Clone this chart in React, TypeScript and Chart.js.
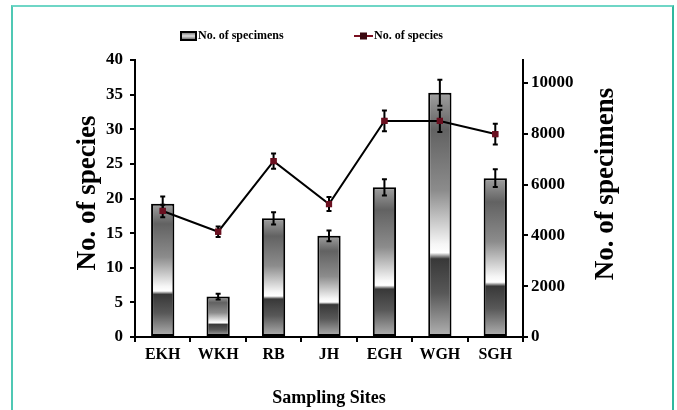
import React, { useEffect, useRef } from "react";
import { Chart, registerables } from "chart.js";

Chart.register(...registerables);

const sites = ["EKH", "WKH", "RB", "JH", "EGH", "WGH", "SGH"];
const specimens = [5240, 1590, 4670, 3980, 5890, 9610, 6250];
const specimenErr = [290, 110, 240, 210, 320, 510, 350];
const species = [18.2, 15.2, 25.4, 19.2, 31.2, 31.2, 29.3];
const speciesErr = [0.9, 0.75, 1.1, 1.0, 1.5, 1.6, 1.5];
const speciesTicks = { min: 0, max: 40, step: 5 };
const specimenAxis = { min: 0, max: 10900 };
const specimenTickValues = [0, 2000, 4000, 6000, 8000, 10000];

const FONT = "'Liberation Serif', 'Times New Roman', serif";

function addBarStops(g: CanvasGradient) {
  g.addColorStop(0, "#a0a0a0");
  g.addColorStop(0.15, "#626262");
  g.addColorStop(0.4, "#8c8c8c");
  g.addColorStop(0.62, "#f6f6f6");
  g.addColorStop(0.655, "#ffffff");
  g.addColorStop(0.68, "#383838");
  g.addColorStop(0.82, "#585858");
  g.addColorStop(1, "#b4b4b4");
}

const overlayPlugin = {
  id: "overlay",
  afterDatasetsDraw(chart: any) {
    const c = chart.ctx as CanvasRenderingContext2D;
    const y = chart.scales.y;
    const y2 = chart.scales.y2;
    const barMeta = chart.getDatasetMeta(0);
    const lineMeta = chart.getDatasetMeta(1);
    c.save();
    c.strokeStyle = "#000";
    c.lineWidth = 2;
    const drawErr = (x: number, lo: number, hi: number) => {
      c.beginPath();
      c.moveTo(x, lo);
      c.lineTo(x, hi);
      c.moveTo(x - 2.5, hi);
      c.lineTo(x + 2.5, hi);
      c.moveTo(x - 2.5, lo);
      c.lineTo(x + 2.5, lo);
      c.stroke();
    };
    specimens.forEach((v, i) => {
      const el = barMeta.data[i];
      drawErr(el.x, y2.getPixelForValue(v - specimenErr[i]), y2.getPixelForValue(v + specimenErr[i]));
    });
    species.forEach((v, i) => {
      const el = lineMeta.data[i];
      drawErr(el.x, y.getPixelForValue(v - speciesErr[i]), y.getPixelForValue(v + speciesErr[i]));
    });
    c.fillStyle = "#6a1020";
    species.forEach((v, i) => {
      const el = lineMeta.data[i];
      c.fillRect(el.x - 3, el.y - 3, 6, 6);
    });
    c.restore();
  },
  afterDraw(chart: any) {
    const c = chart.ctx as CanvasRenderingContext2D;
    const area = chart.chartArea;
    c.save();
    c.fillStyle = "#000";
    c.font = `bold 27px ${FONT}`;
    c.textAlign = "center";
    c.textBaseline = "middle";
    c.save();
    c.translate(88, 193);
    c.rotate(-Math.PI / 2);
    c.fillText("No. of species", 0, 0);
    c.restore();
    c.save();
    c.translate(606, 184);
    c.rotate(-Math.PI / 2);
    c.fillText("No. of specimens", 0, 0);
    c.restore();
    c.font = `bold 18px ${FONT}`;
    c.fillText("Sampling Sites", (area.left + area.right) / 2, 398);
    const ly = 36;
    const g = c.createLinearGradient(0, ly - 4, 0, ly + 4);
    g.addColorStop(0, "#666");
    g.addColorStop(0.5, "#ddd");
    g.addColorStop(1, "#555");
    c.fillStyle = g;
    c.fillRect(181, ly - 4, 15, 8);
    c.strokeStyle = "#000";
    c.lineWidth = 2;
    c.strokeRect(181, ly - 4, 15, 8);
    c.fillStyle = "#000";
    c.font = `bold 12px ${FONT}`;
    c.textAlign = "left";
    c.fillText("No. of specimens", 198, ly);
    c.strokeStyle = "#7a1020";
    c.beginPath();
    c.moveTo(354, ly);
    c.lineTo(373, ly);
    c.stroke();
    c.fillStyle = "#3a0810";
    c.fillRect(360, ly - 3.5, 7, 7);
    c.fillStyle = "#000";
    c.fillText("No. of species", 374, ly);
    c.restore();
  },
};

export default function App() {
  const ref = useRef<HTMLCanvasElement | null>(null);

  useEffect(() => {
    if (!ref.current) return;
    const tickFont = { family: FONT, weight: "bold" as const, size: 16 };
    const yTickFont = { family: FONT, weight: "bold" as const, size: 17 };
    const chart = new Chart(ref.current, {
      type: "bar",
      data: {
        labels: sites,
        datasets: [
          {
            type: "bar",
            label: "No. of specimens",
            data: specimens,
            yAxisID: "y2",
            order: 1,
            borderColor: "#000",
            borderWidth: 2,
            borderSkipped: false,
            barPercentage: 0.42,
            categoryPercentage: 1,
            backgroundColor: (ctx: any) => {
              const ch = ctx.chart;
              const s = ch.scales && ch.scales.y2;
              if (!s || ctx.dataIndex === undefined) return "#999";
              const top = s.getPixelForValue(specimens[ctx.dataIndex]);
              const bottom = s.getPixelForValue(0);
              if (!isFinite(top) || !isFinite(bottom) || top === bottom) return "#999";
              const g = ch.ctx.createLinearGradient(0, top, 0, bottom);
              addBarStops(g);
              return g;
            },
          },
          {
            type: "line",
            label: "No. of species",
            data: species,
            yAxisID: "y",
            order: 0,
            borderColor: "#000",
            borderWidth: 2,
            pointStyle: "rect",
            pointRadius: 3,
            pointBackgroundColor: "#6a1020",
            pointBorderColor: "#6a1020",
            tension: 0,
          },
        ],
      },
      options: {
        responsive: false,
        animation: false,
        layout: { padding: { top: 60, left: 0, right: 0, bottom: 0 } },
        plugins: { legend: { display: false }, tooltip: { enabled: false } },
        scales: {
          x: {
            grid: {
              display: true,
              drawOnChartArea: false,
              drawTicks: true,
              tickLength: 5,
              color: "#000",
              lineWidth: 2,
              offset: true,
            },
            border: { display: true, color: "#000", width: 2 },
            ticks: { font: tickFont, color: "#000", padding: 3, maxRotation: 0 },
            afterFit: (s: any) => {
              s.height = 73;
            },
          },
          y: {
            position: "left",
            min: speciesTicks.min,
            max: speciesTicks.max,
            grid: {
              drawOnChartArea: false,
              drawTicks: true,
              tickLength: 5,
              color: "#000",
              lineWidth: 2,
            },
            border: { display: true, color: "#000", width: 2 },
            ticks: { stepSize: speciesTicks.step, font: yTickFont, color: "#000", padding: 7 },
            afterFit: (s: any) => {
              s.width = 135;
            },
          },
          y2: {
            position: "right",
            min: specimenAxis.min,
            max: specimenAxis.max,
            grid: {
              drawOnChartArea: false,
              drawTicks: true,
              tickLength: 5,
              color: "#000",
              lineWidth: 2,
            },
            border: { display: true, color: "#000", width: 2 },
            ticks: {
              autoSkip: false,
              font: yTickFont,
              color: "#000",
              padding: 3,
              callback: (v: any) => String(Math.round(Number(v))),
            },
            afterBuildTicks: (s: any) => {
              s.ticks = specimenTickValues.map((v) => ({ value: v }));
            },
            afterFit: (s: any) => {
              s.width = 154;
            },
          },
        },
      },
      plugins: [overlayPlugin],
    } as any);
    return () => chart.destroy();
  }, []);

  return (
    <div
      style={{
        position: "fixed",
        left: 0,
        top: 0,
        width: 677,
        height: 410,
        overflow: "hidden",
        background: "#fff",
      }}
    >
      <canvas ref={ref} width={677} height={410} style={{ position: "absolute", left: 0, top: 0 }} />
      <div
        style={{
          position: "absolute",
          left: 11,
          top: 5,
          width: 663,
          height: 410,
          boxSizing: "border-box",
          borderTop: "2px solid #6fd6c6",
          borderLeft: "2px solid #4fc8b4",
          borderRight: "2px solid #2fb89e",
          pointerEvents: "none",
        }}
      />
    </div>
  );
}
